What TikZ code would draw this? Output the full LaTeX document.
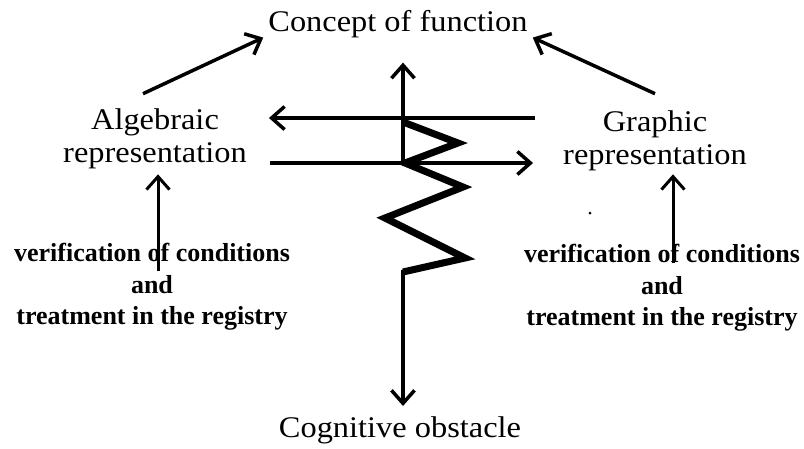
\documentclass[tikz,border=0pt]{standalone}
\usepackage{fontspec}
\setmainfont{Liberation Serif}
\newfontfamily\lblfont[FakeStretch=1.08]{Liberation Serif}
\newfontfamily\notefont{Liberation Serif}
\usetikzlibrary{arrows.meta}

\begin{document}
\begin{tikzpicture}[x=1pt,y=-1pt,
        lbl/.style={font=\lblfont\fontsize{30}{33}\selectfont, align=center, inner sep=0pt},
        note/.style={font=\notefont\bfseries\fontsize{26}{31.5}\selectfont, align=center, inner sep=0pt},
        arr/.style={-{Straight Barb[length=13pt,width=23pt]}, line width=3.5pt},
        zig/.style={line width=7pt}]
        \useasboundingbox (0,0) rectangle (804,448);

        % Nodes
        \node[lbl, anchor=base] (concept) at (398,31) {Concept of function};
        \node[lbl] (alg)   at (155,139) {Algebraic\\representation};
        \node[lbl] (graph) at (655,141) {Graphic\\representation};
        \node[lbl, anchor=base] (obst) at (400,437) {Cognitive obstacle};
        \node[note] (lnote) at (152,287) {verification of conditions\\and\\treatment in the registry};
        \node[note] (rnote) at (662,288) {verification of conditions\\and\\treatment in the registry};

        % Arrows to the concept
        \draw[arr] ([xshift=-12pt,yshift=15pt]alg.north) -- ([xshift=-5pt]concept.south west);
        \draw[arr] ([yshift=17pt]graph.north) -- ([xshift=5pt]concept.south east);

        % Conversion between registers
        \draw[arr] ([xshift=-28pt,yshift=23pt]graph.west) -- ([xshift=22pt,yshift=21pt]alg.east);
        \draw[arr] ([xshift=23pt,yshift=-24pt]alg.east) -- ([xshift=-30pt,yshift=-22pt]graph.west);

        % Treatment in each register
        \draw[arr, line width=3pt] ([xshift=6pt,yshift=-28pt]lnote.north) -- ([xshift=3pt,yshift=-5pt]alg.south);
        \draw[arr, line width=3pt] ([xshift=11pt,yshift=-19pt]rnote.north) -- ([xshift=18pt,yshift=-3pt]graph.south);

        % Obstacle line
        \draw[arr] (403,165) -- ([xshift=5pt,yshift=-25pt]concept.south);
        \draw[zig] (403,122) -- (458,143) -- (405,163) -- (463,187) -- (385,218) -- (465,258) -- (403,272);
        \draw[arr] (403,270) -- ([xshift=3pt,yshift=10pt]obst.north);
        \fill (590,213) circle (1.5);
\end{tikzpicture}
\end{document}
